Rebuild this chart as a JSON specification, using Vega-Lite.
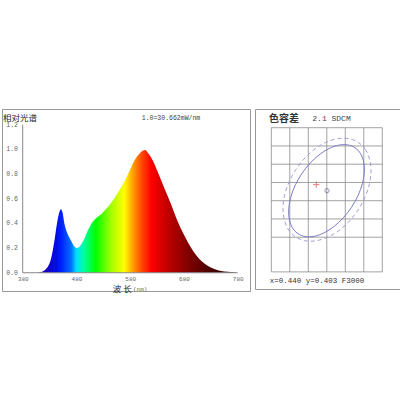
{
  "$schema": "https://vega.github.io/schema/vega-lite/v6.json",
  "padding": {"left": 1, "top": 108, "right": 0, "bottom": 0},
  "background": "white",
  "spacing": 3,
  "config": {"view": {"stroke": "#999999", "strokeWidth": 1}, "axis": {"labelOverlap": false, "labelBound": false}},
  "datasets": {
    "spectrum": [
      {"nm": 380, "v": 0}, {"nm": 400, "v": 0}, {"nm": 410, "v": 0.002}, {"nm": 417, "v": 0.01},
      {"nm": 422, "v": 0.025}, {"nm": 427, "v": 0.05}, {"nm": 433, "v": 0.12}, {"nm": 439, "v": 0.26},
      {"nm": 445, "v": 0.43}, {"nm": 449, "v": 0.5}, {"nm": 451, "v": 0.515}, {"nm": 454, "v": 0.49},
      {"nm": 458, "v": 0.39}, {"nm": 464, "v": 0.31}, {"nm": 470, "v": 0.26}, {"nm": 476, "v": 0.215},
      {"nm": 481, "v": 0.2}, {"nm": 488, "v": 0.225}, {"nm": 495, "v": 0.28}, {"nm": 502, "v": 0.35},
      {"nm": 508, "v": 0.4}, {"nm": 516, "v": 0.44}, {"nm": 526, "v": 0.475}, {"nm": 538, "v": 0.53},
      {"nm": 550, "v": 0.6}, {"nm": 563, "v": 0.69}, {"nm": 575, "v": 0.79}, {"nm": 588, "v": 0.91},
      {"nm": 597, "v": 0.965}, {"nm": 604, "v": 0.99}, {"nm": 608, "v": 0.995}, {"nm": 613, "v": 0.97},
      {"nm": 622, "v": 0.91}, {"nm": 631, "v": 0.82}, {"nm": 643, "v": 0.69}, {"nm": 656, "v": 0.555},
      {"nm": 668, "v": 0.42}, {"nm": 681, "v": 0.3}, {"nm": 693, "v": 0.205}, {"nm": 705, "v": 0.13},
      {"nm": 718, "v": 0.075}, {"nm": 730, "v": 0.043}, {"nm": 743, "v": 0.02}, {"nm": 755, "v": 0.01},
      {"nm": 767, "v": 0.005}, {"nm": 780, "v": 0}
    ],
    "yticks": [{"t": 0}, {"t": 0.2}, {"t": 0.4}, {"t": 0.6}, {"t": 0.8}, {"t": 1.0}, {"t": 1.2}],
    "solid": [
      {"i": 0, "u": 4.523, "k": 1.094}, {"i": 1, "u": 4.821, "k": 1.409}, {"i": 2, "u": 4.993, "k": 1.864},
      {"i": 3, "u": 5.029, "k": 2.427}, {"i": 4, "u": 4.925, "k": 3.059}, {"i": 5, "u": 4.689, "k": 3.718},
      {"i": 6, "u": 4.336, "k": 4.359}, {"i": 7, "u": 3.891, "k": 4.939}, {"i": 8, "u": 3.385, "k": 5.417},
      {"i": 9, "u": 2.851, "k": 5.761}, {"i": 10, "u": 2.327, "k": 5.947}, {"i": 11, "u": 1.847, "k": 5.965},
      {"i": 12, "u": 1.444, "k": 5.81}, {"i": 13, "u": 1.146, "k": 5.495}, {"i": 14, "u": 0.975, "k": 5.04},
      {"i": 15, "u": 0.939, "k": 4.477}, {"i": 16, "u": 1.043, "k": 3.846}, {"i": 17, "u": 1.278, "k": 3.186},
      {"i": 18, "u": 1.631, "k": 2.545}, {"i": 19, "u": 2.076, "k": 1.965}, {"i": 20, "u": 2.582, "k": 1.487},
      {"i": 21, "u": 3.116, "k": 1.144}, {"i": 22, "u": 3.641, "k": 0.957}, {"i": 23, "u": 4.121, "k": 0.939}
    ],
    "dashed": [
      {"i": 0, "u": 4.703, "k": 0.806}, {"i": 1, "u": 5.078, "k": 1.185}, {"i": 2, "u": 5.312, "k": 1.715},
      {"i": 3, "u": 5.389, "k": 2.359}, {"i": 4, "u": 5.305, "k": 3.073}, {"i": 5, "u": 5.065, "k": 3.81},
      {"i": 6, "u": 4.683, "k": 4.519}, {"i": 7, "u": 4.188, "k": 5.152}, {"i": 8, "u": 3.613, "k": 5.665},
      {"i": 9, "u": 2.997, "k": 6.022}, {"i": 10, "u": 2.382, "k": 6.202}, {"i": 11, "u": 1.809, "k": 6.191},
      {"i": 12, "u": 1.319, "k": 5.988}, {"i": 13, "u": 0.943, "k": 5.61}, {"i": 14, "u": 0.709, "k": 5.08},
      {"i": 15, "u": 0.632, "k": 4.436}, {"i": 16, "u": 0.717, "k": 3.721}, {"i": 17, "u": 0.957, "k": 2.985},
      {"i": 18, "u": 1.338, "k": 2.275}, {"i": 19, "u": 1.834, "k": 1.642}, {"i": 20, "u": 2.409, "k": 1.129},
      {"i": 21, "u": 3.025, "k": 0.772}, {"i": 22, "u": 3.64, "k": 0.592}, {"i": 23, "u": 4.213, "k": 0.604}
    ],
    "vgrid": [{"g": 0}, {"g": 1}, {"g": 2}, {"g": 3}, {"g": 4}, {"g": 5}, {"g": 6}],
    "hgrid": [{"g": 0}, {"g": 1}, {"g": 2}, {"g": 3}, {"g": 4}, {"g": 5}, {"g": 6}, {"g": 7.9}]
  },
  "hconcat": [
    {
      "width": 248,
      "height": 182,
      "layer": [
        {
          "data": {"name": "spectrum"},
          "mark": {
            "type": "area",
            "interpolate": "monotone",
            "color": {
              "gradient": "linear", "x1": 0, "y1": 0, "x2": 1, "y2": 0,
              "stops": [
                {"offset": 0, "color": "#1000a0"},
                {"offset": 0.1, "color": "#1800b8"},
                {"offset": 0.16, "color": "#0010e8"},
                {"offset": 0.18, "color": "#0020ff"},
                {"offset": 0.225, "color": "#0070ff"},
                {"offset": 0.25, "color": "#00e0ff"},
                {"offset": 0.285, "color": "#00ffa0"},
                {"offset": 0.34, "color": "#00ff00"},
                {"offset": 0.41, "color": "#a0ff00"},
                {"offset": 0.4725, "color": "#ffff00"},
                {"offset": 0.5125, "color": "#ffa000"},
                {"offset": 0.55, "color": "#ff5000"},
                {"offset": 0.5975, "color": "#ff0000"},
                {"offset": 0.675, "color": "#c00000"},
                {"offset": 0.77, "color": "#800000"},
                {"offset": 0.86, "color": "#500000"},
                {"offset": 1, "color": "#200000"}
              ]
            }
          },
          "encoding": {
            "x": {
              "field": "nm", "type": "quantitative",
              "scale": {"domain": [341.5, 802.9], "nice": false, "zero": false},
              "axis": {"values": [380, 480, 580, 680, 780], "offset": -18.3, "domain": false, "ticks": false, "grid": false, "title": null,
                       "labelFont": "Liberation Mono", "labelFontSize": 6, "labelColor": "#666666", "labelPadding": 3, "labelFlush": false, "labelOverlap": false}
            },
            "y": {
              "field": "v", "type": "quantitative",
              "scale": {"domain": [-0.148, 1.327], "nice": false, "zero": false},
              "axis": null
            }
          }
        },
        {
          "data": {"name": "yticks"},
          "mark": {"type": "text", "align": "right", "baseline": "middle", "font": "Liberation Mono", "fontSize": 6.5, "color": "#666666"},
          "encoding": {
            "x": {"datum": 371.3},
            "y": {"field": "t", "type": "quantitative", "axis": null},
            "text": {"field": "t", "type": "quantitative", "format": ".1f"}
          }
        },
        {
          "data": {"values": [{}]},
          "mark": {"type": "rule", "color": "#888888", "strokeWidth": 1},
          "encoding": {"x": {"datum": 380}, "x2": {"datum": 780}, "y": {"datum": 0, "axis": null}}
        },
        {
          "data": {"values": [{}]},
          "mark": {"type": "rule", "color": "#888888", "strokeWidth": 1},
          "encoding": {"x": {"datum": 380}, "y": {"datum": 0, "axis": null}, "y2": {"datum": 1.2}}
        },
        {
          "data": {"values": [{"t": "相对光谱"}]},
          "mark": {"type": "text", "align": "left", "baseline": "middle", "font": "Noto Sans CJK SC", "fontSize": 8.5, "color": "#222222"},
          "encoding": {"x": {"datum": 343.4}, "y": {"datum": 1.256, "axis": null}, "text": {"field": "t"}}
        },
        {
          "data": {"values": [{"t": "1.0=30.662mW/nm"}]},
          "mark": {"type": "text", "align": "center", "baseline": "middle", "font": "Liberation Mono", "fontSize": 6.5, "color": "#444444"},
          "encoding": {"x": {"datum": 655.9}, "y": {"datum": 1.256, "axis": null}, "text": {"field": "t"}}
        },
        {
          "data": {"values": [{"t": "波 长"}]},
          "mark": {"type": "text", "align": "left", "baseline": "middle", "font": "Noto Sans CJK SC", "fontSize": 8.5, "color": "#222222"},
          "encoding": {"x": {"datum": 547.5}, "y": {"datum": -0.13, "axis": null}, "text": {"field": "t"}}
        },
        {
          "data": {"values": [{"t": "(nm)"}]},
          "mark": {"type": "text", "align": "left", "baseline": "middle", "font": "Liberation Mono", "fontSize": 6, "color": "#666666"},
          "encoding": {"x": {"datum": 585.2}, "y": {"datum": -0.13, "axis": null}, "text": {"field": "t"}}
        }
      ]
    },
    {
      "width": 145,
      "height": 180,
      "layer": [
        {
          "data": {"name": "vgrid"},
          "mark": {"type": "rule", "color": "#8a8a8a", "strokeWidth": 0.8},
          "encoding": {
            "x": {"field": "g", "type": "quantitative", "scale": {"domain": [-0.881, 6.957], "nice": false, "zero": false}, "axis": null},
            "y": {"datum": 0, "scale": {"domain": [8.838, -1.025], "nice": false, "zero": false}, "axis": null},
            "y2": {"datum": 7.9}
          }
        },
        {
          "data": {"name": "hgrid"},
          "mark": {"type": "rule", "color": "#8a8a8a", "strokeWidth": 0.8},
          "encoding": {
            "y": {"field": "g", "type": "quantitative", "axis": null},
            "x": {"datum": 0, "axis": null},
            "x2": {"datum": 6}
          }
        },
        {
          "data": {"name": "dashed"},
          "mark": {"type": "line", "interpolate": "cardinal-closed", "color": "#a0a0d8", "strokeWidth": 1, "strokeDash": [4, 3]},
          "encoding": {
            "x": {"field": "u", "type": "quantitative", "axis": null},
            "y": {"field": "k", "type": "quantitative", "axis": null},
            "order": {"field": "i"}
          }
        },
        {
          "data": {"name": "solid"},
          "mark": {"type": "line", "interpolate": "cardinal-closed", "color": "#7c7cc8", "strokeWidth": 1},
          "encoding": {
            "x": {"field": "u", "type": "quantitative", "axis": null},
            "y": {"field": "k", "type": "quantitative", "axis": null},
            "order": {"field": "i"}
          }
        },
        {
          "data": {"values": [{}]},
          "mark": {"type": "point", "shape": "circle", "filled": false, "size": 18, "color": "#666688", "strokeWidth": 1},
          "encoding": {"x": {"datum": 3.01, "axis": null}, "y": {"datum": 3.45, "axis": null}}
        },
        {
          "data": {"values": [{}]},
          "mark": {"type": "point", "shape": "M -1 0 L 1 0 M 0 -1 L 0 1", "filled": false, "size": 40, "color": "#e04040", "strokeWidth": 1},
          "encoding": {"x": {"datum": 2.43, "axis": null}, "y": {"datum": 3.12, "axis": null}}
        },
        {
          "data": {"values": [{"t": "色容差"}]},
          "mark": {"type": "text", "align": "left", "baseline": "middle", "font": "Noto Sans CJK SC", "fontSize": 10, "fontWeight": "bold", "color": "#333333"},
          "encoding": {"x": {"datum": -0.124, "axis": null}, "y": {"datum": -0.49, "axis": null}, "text": {"field": "t"}}
        },
        {
          "data": {"values": [{"t": "2.1 SDCM"}]},
          "mark": {"type": "text", "align": "left", "baseline": "middle", "font": "Liberation Mono", "fontSize": 8, "color": "#444444"},
          "encoding": {"x": {"datum": 2.216, "axis": null}, "y": {"datum": -0.49, "axis": null}, "text": {"field": "t"}}
        },
        {
          "data": {"values": [{"t": "x=0.440 y=0.403 F3000"}]},
          "mark": {"type": "text", "align": "left", "baseline": "middle", "font": "Liberation Mono", "fontSize": 7.5, "color": "#333333"},
          "encoding": {"x": {"datum": -0.086, "axis": null}, "y": {"datum": 8.38, "axis": null}, "text": {"field": "t"}}
        }
      ]
    }
  ]
}
